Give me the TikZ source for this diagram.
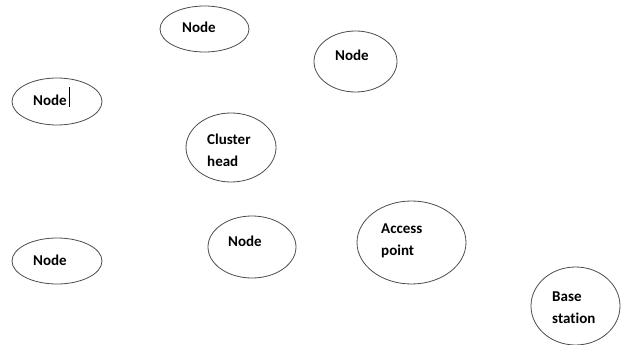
\documentclass[tikz,border=0pt]{standalone}
\usepackage{fontspec}
\setmainfont{Carlito}[Ligatures={NoCommon,NoContextual}]
\usetikzlibrary{shapes.geometric}
\begin{document}
\begin{tikzpicture}[x=1pt,y=-1pt,
  blob/.style={draw=black!70,line width=0.8pt,ellipse,inner sep=0pt},
  lbl/.style={anchor=base west,inner sep=0pt,font=\fontsize{15}{22.5}\selectfont\bfseries,align=left}]
\useasboundingbox (0,0) rectangle (621,345);
% ellipses
\node[blob,minimum width=89pt,minimum height=46pt] (n1) at (204.5,29) {};
\node[blob,minimum width=83pt,minimum height=61pt] (n2) at (355.5,61.5) {};
\node[blob,minimum width=90pt,minimum height=47pt] (n3) at (57,101.5) {};
\node[blob,minimum width=90pt,minimum height=69pt] (ch) at (231,147.5) {};
\node[blob,minimum width=90pt,minimum height=46pt] (n4) at (57,261) {};
\node[blob,minimum width=88pt,minimum height=62pt] (n5) at (252,247) {};
\node[blob,minimum width=109pt,minimum height=83pt] (ap) at (411.5,242.5) {};
\node[blob,minimum width=89pt,minimum height=78pt] (bs) at (575.5,306) {};
% labels (multi-line labels are placed by the baseline of their last line)
\node[lbl] (t1) at (182,33) {Node};
\node[lbl] (t2) at (335,60) {Node};
\node[lbl] (t3) at (33,105) {Node};
\draw[line width=1pt] (69.5,87) -- (69.5,107);
\node[lbl] (tch) at (207,166.5) {Cluster\\head};
\node[lbl] (t4) at (33,265) {Node};
\node[lbl] (t5) at (228,246) {Node};
\node[lbl] (tap) at (381,255.5) {Access\\point};
\node[lbl] (tbs) at (552,323.5) {Base\\station};
\end{tikzpicture}
\end{document}
